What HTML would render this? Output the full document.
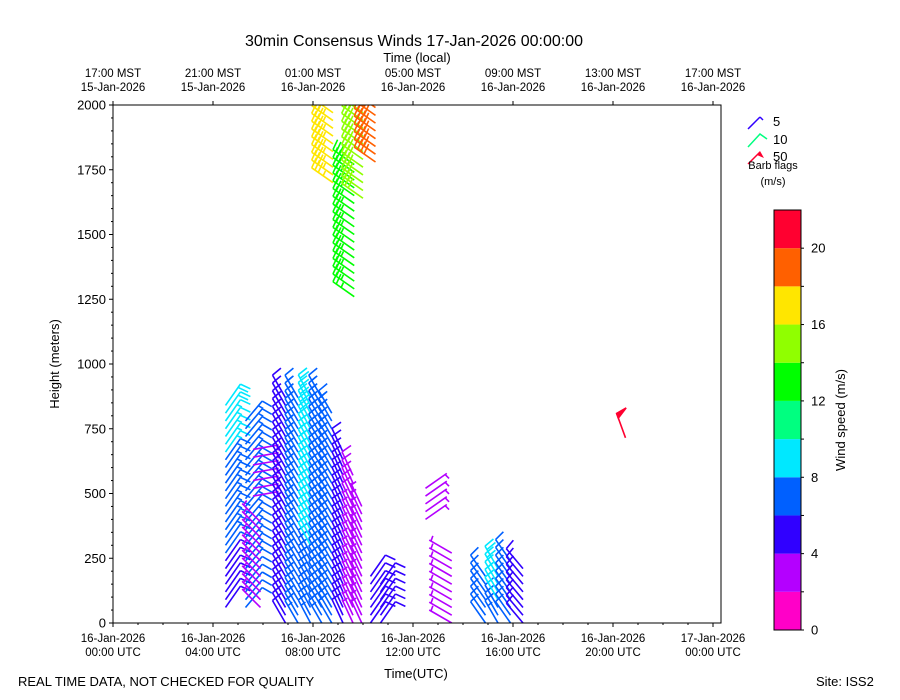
<!DOCTYPE html>
<html><head><meta charset="utf-8"><style>
body{margin:0;background:#fff;}
svg{display:block;font-family:"Liberation Sans","DejaVu Sans",sans-serif;}
</style></head><body>
<svg id="chart" width="900" height="700" viewBox="0 0 900 700">
<text x="414" y="46" font-size="16" text-anchor="middle">30min Consensus Winds 17-Jan-2026 00:00:00</text>
<text x="417" y="62" font-size="13" text-anchor="middle">Time (local)</text>
<text x="416" y="678" font-size="13" text-anchor="middle">Time(UTC)</text>
<text x="59" y="364" font-size="13" text-anchor="middle" transform="rotate(-90 59 364)">Height (meters)</text>
<text x="18" y="686" font-size="13">REAL TIME DATA, NOT CHECKED FOR QUALITY</text>
<text x="816" y="686" font-size="13">Site: ISS2</text>
<text x="845" y="420" font-size="13" text-anchor="middle" transform="rotate(-90 845 420)">Wind speed (m/s)</text>
<defs><clipPath id="plotclip"><rect x="113" y="105" width="608" height="518"/></clipPath></defs>
<g id="barbs" clip-path="url(#plotclip)"></g>
<rect x="113" y="105" width="608" height="518" fill="none" stroke="#000" stroke-width="1"/>
<g id="axes"></g>
<g id="legend">
<text x="773" y="126" font-size="13">5</text>
<text x="773" y="144" font-size="13">10</text>
<text x="773" y="161" font-size="13">50</text>
<line x1="748" y1="129" x2="760" y2="117" stroke="#3000ff" stroke-width="1.5"/>
<line x1="760" y1="117" x2="763" y2="120" stroke="#3000ff" stroke-width="1.5"/>
<polyline points="748,147 760,134 767,139" fill="none" stroke="#00ff80" stroke-width="1.5"/>
<line x1="748" y1="164" x2="760" y2="152" stroke="#ff0030" stroke-width="1.5"/>
<polygon points="757,155 760,151 764,158" fill="#ff0030"/>
<text x="773" y="169" font-size="11" text-anchor="middle">Barb flags</text>
<text x="773" y="185" font-size="11" text-anchor="middle">(m/s)</text>
</g>
<g id="cbar"></g>
</svg>
<script>
const bottomTicks=["16-Jan-2026|00:00 UTC","16-Jan-2026|04:00 UTC","16-Jan-2026|08:00 UTC","16-Jan-2026|12:00 UTC","16-Jan-2026|16:00 UTC","16-Jan-2026|20:00 UTC","17-Jan-2026|00:00 UTC"];
const topTicks=["17:00 MST|15-Jan-2026","21:00 MST|15-Jan-2026","01:00 MST|16-Jan-2026","05:00 MST|16-Jan-2026","09:00 MST|16-Jan-2026","13:00 MST|16-Jan-2026","17:00 MST|16-Jan-2026"];
const tickHours=[0,4,8,12,16,20,24];
const yTicks=[0,250,500,750,1000,1250,1500,1750,2000];
const cbarTicks=[0,4,8,12,16,20];
const cbarColors=["#ff00c8","#b400ff","#3000ff","#0060ff","#00e8ff","#00ff80","#00ff00","#90ff00","#ffe600","#ff6000","#ff0030"];
// columns: time (UTC hours), bottom/top height, bottom/top speed (m/s), staff direction (deg, screen clockwise from up)
const colTimes=[4.5,5.3,5.6,5.9,6.9,7.4,7.9,8.35,8.75,9.2,9.6,9.95,8.8,9.65,10.0,10.5,10.3,10.7,12.5,13.55,14.9,15.4,15.9,16.4,20.5];
const colBottom=[60,60,490,60,0,0,0,0,0,0,0,0,1700,1260,1640,1780,0,0,400,0,0,0,0,0,715];
const colTop=[840,780,690,400,890,890,890,870,820,670,580,470,2000,1780,2000,2000,200,150,520,290,200,210,260,210,715];
const colSpeed=[5,6,3,3,5,7,7.5,7,6,5,3,3,17,12,15,19,4,4,3,3,6,7.5,6,5,21];
const colTopSpeed=[9,7,3,2,6,8,9,7,7,5,4,3,17,14,15,20,4,4,3,3,6,9,6,5,21];
const colDir=[35,40,80,-45,-30,-30,-28,-30,-30,-25,-25,-25,-55,-55,-55,-55,35,35,55,-60,-35,-30,-35,-40,-20];
const NS="http://www.w3.org/2000/svg";
const X0=113,X1=713,Y0=623,Y1=105;
function xs(h){return X0+(X1-X0)*h/24;}
function ys(m){return Y0+(Y1-Y0)*m/2000;}
function mk(tag,attrs,parent){const e=document.createElementNS(NS,tag);for(const k in attrs)e.setAttribute(k,attrs[k]);parent.appendChild(e);return e;}
function color(s){return cbarColors[Math.max(0,Math.min(10,Math.floor(s/2)))];}
const axes=document.getElementById('axes');
tickHours.forEach((h,i)=>{
  const x=xs(h);
  const tb=mk('line',{x1:x,y1:Y0,x2:x,y2:Y0+4,stroke:'#000'},axes);
  
  
  mk('line',{x1:x,y1:Y1,x2:x,y2:Y1-4,stroke:'#000'},axes);
  const p=bottomTicks[i].split('|');
  const t=mk('text',{x:x,y:Y0+19,'font-size':11.5,'text-anchor':'middle'},axes);
  
  
  t.innerHTML=`<tspan x="${x}">${p[0]}</tspan><tspan x="${x}" dy="14">${p[1]}</tspan>`;
  const q=topTicks[i].split('|');
  const t2=mk('text',{x:x,y:77,'font-size':11.5,'text-anchor':'middle'},axes);
  
  
  t2.innerHTML=`<tspan x="${x}">${q[0]}</tspan><tspan x="${x}" dy="14">${q[1]}</tspan>`;
});
for(let h=1;h<24;h++){if(h%4)mk('line',{x1:xs(h),y1:Y0,x2:xs(h),y2:Y0+2,stroke:'#000'},axes);}
yTicks.forEach(v=>{
  const y=ys(v);
  const l=mk('line',{x1:X0-4,y1:y,x2:X0,y2:y,stroke:'#000'},axes);
  
  
  const t=mk('text',{x:X0-7,y:y+4.5,'font-size':13,'text-anchor':'end'},axes);
  
  
  t.textContent=v;
});
for(let v=50;v<2000;v+=50){if(v%250)mk('line',{x1:X0-2,y1:ys(v),x2:X0,y2:ys(v),stroke:'#000'},axes);}
const cb=document.getElementById('cbar');
const CB0=630,CB1=210,CBmax=22;
cbarColors.forEach((c,i)=>{
  const yA=CB0-(CB0-CB1)*(i*2)/CBmax, yB=CB0-(CB0-CB1)*((i+1)*2)/CBmax;
  const r=mk('rect',{x:774,y:yB,width:27,height:yA-yB,fill:c},cb);
  
  
  mk('line',{x1:801,y1:yA,x2:804,y2:yA,stroke:'#000'},cb);
});
mk('rect',{x:774,y:CB1,width:27,height:CB0-CB1,fill:'none',stroke:'#000'},cb);
cbarTicks.forEach(v=>{
  const y=CB0-(CB0-CB1)*v/CBmax;
  const t=mk('text',{x:811,y:y+4.5,'font-size':13},cb);
  
  
  t.textContent=v;
});
const bg=document.getElementById('barbs');
const L=26,B=11;
function barb(x,y,s,dir){
  const c=color(s);
  const a=dir*Math.PI/180;
  const ux=Math.sin(a),uy=-Math.cos(a);
  const tx=x+ux*L,ty=y+uy*L;
  const g=mk('g',{stroke:c,'stroke-width':1.6,fill:'none'},bg);
  
  
  mk('line',{x1:x,y1:y,x2:tx,y2:ty},g);
  const r=80*Math.PI/180;
  const bx=ux*Math.cos(r)-uy*Math.sin(r),by=ux*Math.sin(r)+uy*Math.cos(r);
  let n=Math.round(s/5*2)/2; let pos=0;
  if(s>=20){mk('polygon',{points:`${tx},${ty} ${tx+bx*B},${ty+by*B} ${tx-ux*5},${ty-uy*5}`,fill:c},g);pos=7;n-=4;}
  while(n>=1){const px=tx-ux*pos,py=ty-uy*pos;mk('line',{x1:px,y1:py,x2:px+bx*B,y2:py+by*B},g);pos+=4;n-=1;}
  if(n>=0.5){const px=tx-ux*(pos+2),py=ty-uy*(pos+2);mk('line',{x1:px,y1:py,x2:px+bx*B/2,y2:py+by*B/2},g);}
}
colTimes.forEach((t,i)=>{
  const step=30;
  for(let h=colBottom[i];h<=colTop[i];h+=step){
    const f=(colTop[i]>colBottom[i])?(h-colBottom[i])/(colTop[i]-colBottom[i]):1;
    const s=colSpeed[i]+(colTopSpeed[i]-colSpeed[i])*f;
    barb(xs(t),ys(h),s,colDir[i]);
  }
});
</script>
</body></html>
